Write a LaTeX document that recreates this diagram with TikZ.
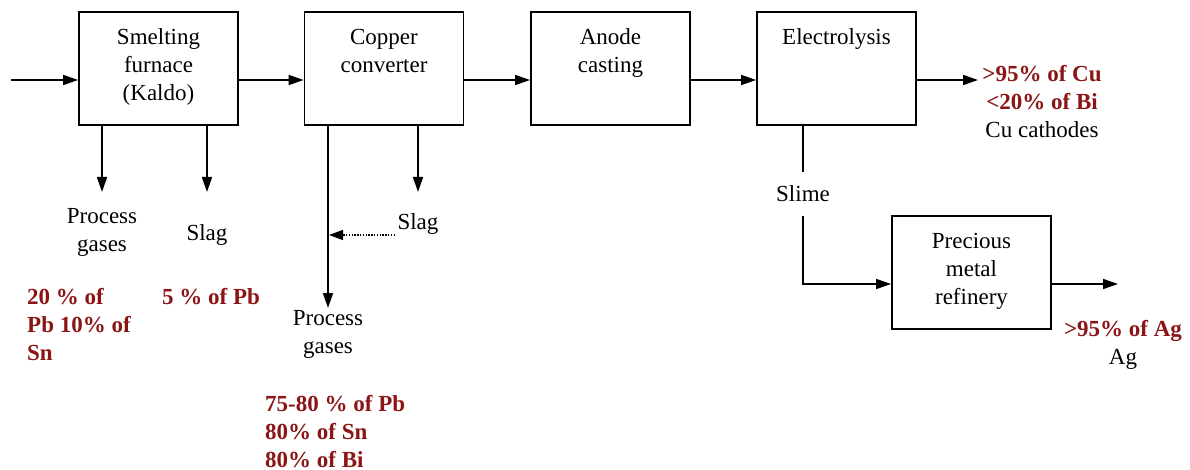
\documentclass[tikz,border=0pt]{standalone}
\usepackage{fontspec}
\setmainfont{Liberation Serif}
\usetikzlibrary{arrows.meta}
\definecolor{dred}{RGB}{139,21,21}
\begin{document}
\begin{tikzpicture}[x=1pt,y=-1pt,
  box/.style={draw,line width=1.8pt,minimum width=159pt,minimum height=113pt,inner sep=0pt},
  txt/.style={font=\fontsize{23}{28}\selectfont,align=center,inner sep=0pt,anchor=north},
  pct/.style={font=\fontsize{23}{28}\selectfont\bfseries,text=dred,align=left,inner sep=0pt,anchor=north west},
  flow/.style={line width=1.6pt,-{Triangle[length=15pt,width=10pt]}},
  plain/.style={line width=1.6pt},
  dotflow/.style={line width=1.3pt,dash pattern=on 1.4pt off 1.4pt,-{Triangle[length=14pt,width=10pt]}}]
\path[use as bounding box] (0,0) rectangle (1190,470);

% levels
\coordinate (lev) at (0,80);
\coordinate (lev2) at (0,284);

% boxes
\node[box] (b1) at (158.5,68.5) {};
\node[box] (b2) at (384,68.5) {};
\node[box] (b3) at (610.5,68.5) {};
\node[box] (b4) at (836.5,68.5) {};
\node[box] (b5) at (971.5,272.5) {};

% box texts
\node[txt] (t1) at (158.5,28) {Smelting\\furnace\\(Kaldo)};
\node[txt] (t2) at (384,29) {Copper\\converter};
\node[txt] (t3) at (610.5,28) {Anode\\casting};
\node[txt] (t4) at (836.5,28) {Electrolysis};
\node[txt] (t5) at (971.5,233) {Precious\\metal\\refinery};

% outlet texts
\node[txt] (pg1) at (102,208) {Process\\gases};
\node[txt] (sl1) at (207,224) {Slag};
\node[txt] (sl2) at (418,213) {Slag};
\node[txt] (pg2) at (328,310) {Process\\gases};
\node[txt,anchor=center,minimum height=44pt] (slime) at (803,194) {Slime};
\node[txt] (cu) at (1042,65) {{\bfseries\color{dred}>95\% of Cu}\\{\bfseries\color{dred}<20\% of Bi}\\Cu cathodes};
\node[txt] (ag) at (1123,320) {{\bfseries\color{dred}>95\% of Ag}\\Ag};

% percentages
\node[pct] (p1) at (27,288) {20 \% of\\Pb 10\% of\\Sn};
\node[pct] (p2) at (162,288) {5 \% of Pb};
\node[pct] (p3) at (265,395) {75-80 \% of Pb\\80\% of Sn\\80\% of Bi};

% free ends
\coordinate (in) at (11,80);
\coordinate (cuout) at (978,80);
\coordinate (agout) at (1118,284);
\coordinate (dstart) at (395,235);

% main line
\draw[flow] (in) -- (b1.west |- lev);
\draw[flow] (b1.east |- lev) -- (b2.west |- lev);
\draw[flow] (b2.east |- lev) -- (b3.west |- lev);
\draw[flow] (b3.east |- lev) -- (b4.west |- lev);
\draw[flow] (b4.east |- lev) -- (cuout);

% outlets
\draw[flow,shorten >=16pt] (b1.south -| pg1.north) -- (pg1.north);
\draw[flow,shorten >=32pt] (b1.south -| sl1.north) -- (sl1.north);
\draw[flow,shorten >=21pt] (b2.south -| sl2.north) -- (sl2.north);
\draw[flow,shorten >=2pt] (b2.south -| pg2.north) -- (pg2.north);
\draw[dotflow] (dstart) -- ([xshift=1pt]pg2.north |- dstart);

% slime
\draw[plain] (b4.south -| slime.north) -- (slime.north);
\draw[flow] (slime.south) |- (b5.west |- lev2);
\draw[flow] (b5.east |- lev2) -- (agout);
\end{tikzpicture}
\end{document}
